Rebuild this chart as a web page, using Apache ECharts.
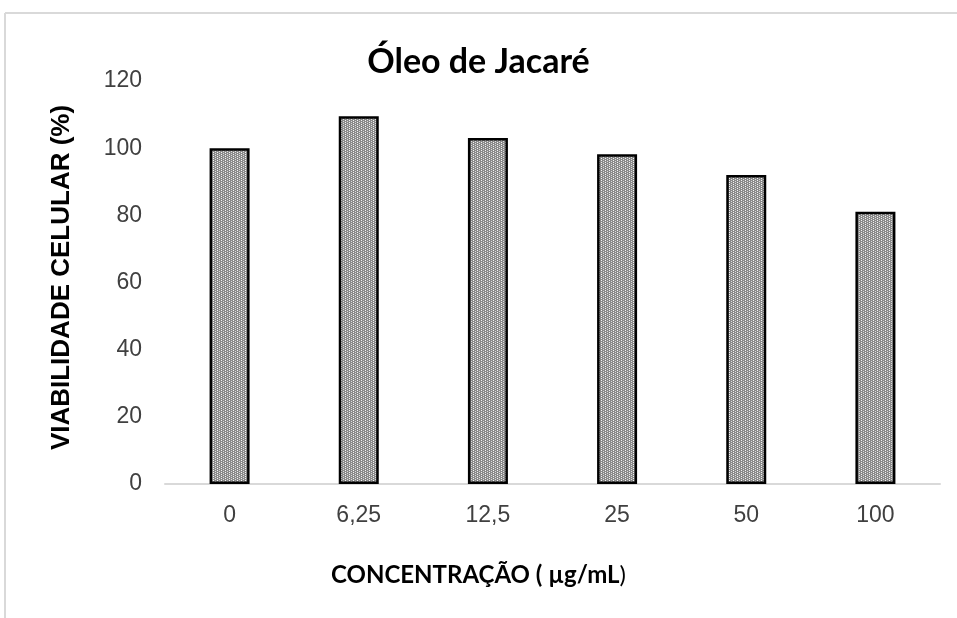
<!DOCTYPE html>
<html>
<head>
<meta charset="utf-8">
<script src="https://cdn.jsdelivr.net/npm/echarts@6/dist/echarts.min.js"></script>
<style>
  html, body { margin: 0; padding: 0; background: #fff; }
  #chart { width: 957px; height: 618px; }
</style>
</head>
<body>
<div id="chart"></div>
<script>
// Concentrations tested (µg/mL) and resulting cell viability (%)
const concentrations = ['0', '6,25', '12,5', '25', '50', '100'];
const viability = [100, 109.5, 103, 98.2, 92, 81.1];
const yTicks = { min: 0, max: 120, interval: 20 };

// Stippled grey fill for the bars
function makeStipple() {
  const c = document.createElement('canvas');
  c.width = 4; c.height = 4;
  const g = c.getContext('2d');
  g.fillStyle = '#8a8a8a';
  g.fillRect(0, 0, 4, 4);
  g.fillStyle = '#f4f4f4';
  g.fillRect(1, 0, 1, 1);
  g.fillRect(1, 2, 1, 1);
  g.fillStyle = '#dcdcdc';
  g.fillRect(3, 1, 1, 1);
  g.fillRect(3, 3, 1, 1);
  return c;
}

const sans = '"Liberation Sans", Arial, sans-serif';
const heading = 'Lato, "Open Sans", sans-serif';

const chart = echarts.init(document.getElementById('chart'), null, { renderer: 'canvas' });

chart.setOption({
  animation: false,
  backgroundColor: '#ffffff',
  title: {
    text: 'Óleo de Jacaré',
    left: 'center',
    top: 40,
    textStyle: { fontFamily: heading, fontWeight: 'bold', fontSize: 34, color: '#000' }
  },
  graphic: [
    { type: 'line', shape: { x1: 5, y1: 13, x2: 957, y2: 13 }, style: { stroke: '#d9d9d9', lineWidth: 2 } },
    { type: 'line', shape: { x1: 5, y1: 13, x2: 5, y2: 618 }, style: { stroke: '#d9d9d9', lineWidth: 2 } },
    {
      type: 'text', left: 'center', top: 563,
      style: {
        text: '{b|CONCENTRAÇÃO ( µg/mL}{n|)}',
        rich: {
          b: { fontFamily: heading, fontWeight: 'bold', fontSize: 24, fill: '#000' },
          n: { fontFamily: heading, fontWeight: 'normal', fontSize: 24, fill: '#000' }
        }
      }
    }
  ],
  grid: { left: 165, right: 17, top: 81, bottom: 134 },
  xAxis: {
    type: 'category',
    data: concentrations,
    axisLine: { lineStyle: { color: '#d9d9d9', width: 2 } },
    axisTick: { show: false },
    axisLabel: { color: '#404040', fontFamily: sans, fontSize: 23, margin: 20 }
  },
  yAxis: {
    type: 'value',
    min: yTicks.min,
    max: yTicks.max,
    interval: yTicks.interval,
    name: 'VIABILIDADE CELULAR (%)',
    nameLocation: 'middle',
    nameGap: 90,
    nameTextStyle: { fontFamily: sans, fontWeight: 'bold', fontSize: 26, color: '#000', padding: [0, 0, 0, 10] },
    axisLine: { show: false },
    axisTick: { show: false },
    splitLine: { show: false },
    axisLabel: { color: '#404040', fontFamily: sans, fontSize: 23, margin: 23 }
  },
  series: [{
    type: 'bar',
    data: viability,
    barWidth: 40,
    itemStyle: {
      color: { image: makeStipple(), repeat: 'repeat' },
      borderColor: '#000',
      borderWidth: 2.5
    }
  }]
});
</script>
</body>
</html>
